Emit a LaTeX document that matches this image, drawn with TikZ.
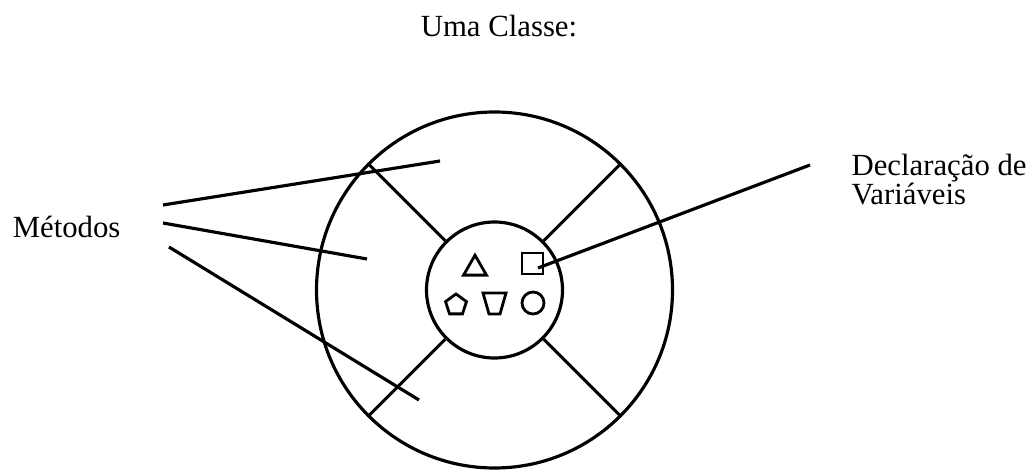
\documentclass[tikz,border=0pt]{standalone}
\usepackage{fontspec}
\setmainfont{Liberation Serif}
\usepackage{tikz}
\usetikzlibrary{positioning,shapes.geometric}

\tikzset{
  lbl/.style={font=\fontsize{17.5}{13}\selectfont,inner sep=0pt},
  ring/.style={draw,circle,inner sep=0pt,line width=1.8pt},
  glyph/.style={draw,inner sep=0pt,line width=1.6pt},
}

\begin{document}
\begin{tikzpicture}[line width=1.8pt]
  \useasboundingbox (0,0) rectangle (20.68,9.38);
  % the class: outer ring and the inner core
  \node[ring,minimum size=7.12cm] (outer) at (9.89,3.58) {};
  \node[ring,minimum size=2.72cm] (core) at (9.89,3.58) {};
  \foreach \a in {45,135,225,315} {
    \draw (core.\a) -- (outer.\a);
  }
  % variables inside the core
  \node[glyph,regular polygon,regular polygon sides=3,minimum size=0.53cm] (tri) at (9.50,4.01) {};
  \node[glyph,rectangle,minimum size=0.42cm] (sq) at (10.65,4.11) {};
  \node[glyph,regular polygon,regular polygon sides=5,minimum size=0.44cm] (pent) at (9.12,3.28) {};
  \draw[line width=1.6pt,line join=miter] (9.66,3.52) -- (10.12,3.52) -- (10.00,3.10) -- (9.78,3.10) -- cycle;
  \node[glyph,circle,minimum size=0.44cm] (dot) at (10.66,3.32) {};
  % labels
  \node[lbl,anchor=base] (title) at (9.98,8.64) {Uma Classe:};
  \node[lbl,anchor=base east] (met) at (2.44,4.62) {Métodos};
  \node[lbl,anchor=base west,align=left] (decl) at (17.0,5.28) {Declaração de\\Variáveis};
  % pointers
  \coordinate (mA) at (3.26,5.28);
  \coordinate (mB) at (3.26,4.92);
  \coordinate (mC) at (3.38,4.44);
  \coordinate (mAend) at (8.80,6.16);
  \coordinate (mBend) at (7.34,4.20);
  \coordinate (mCend) at (8.38,1.38);
  \draw (mA) -- (mAend);
  \draw (mB) -- (mBend);
  \draw (mC) -- (mCend);
  \coordinate (dA) at (16.20,6.08);
  \coordinate (dAend) at (10.76,4.02);
  \draw (dA) -- (dAend);
\end{tikzpicture}
\end{document}
